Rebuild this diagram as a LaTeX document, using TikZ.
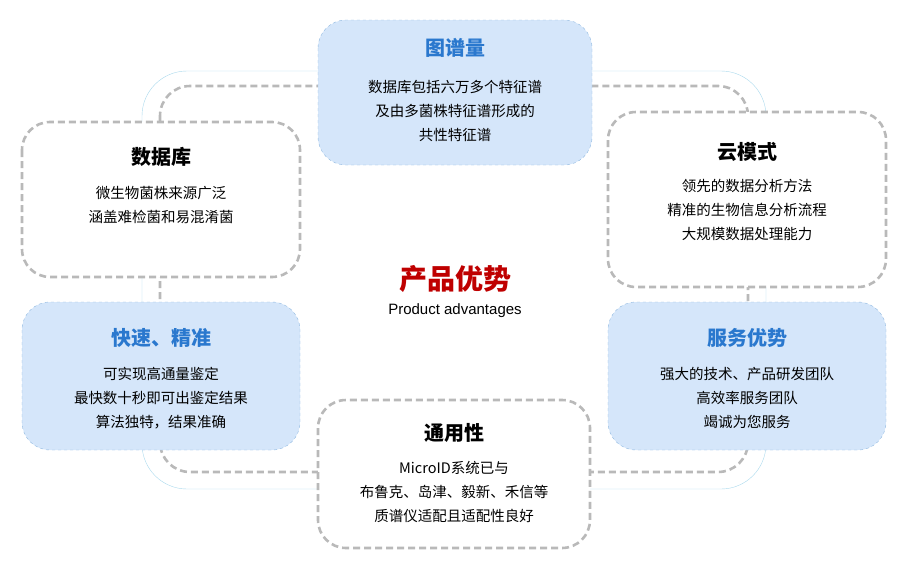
\documentclass[tikz,border=0pt]{standalone}
\usepackage{fontspec}
\setmainfont{Noto Sans CJK SC}
\newfontfamily\latin{Liberation Sans}
\definecolor{bfill}{HTML}{D5E6FA}
\definecolor{bline}{HTML}{8FB8E0}
\definecolor{btxt}{HTML}{2A78CE}
\definecolor{ring}{HTML}{A8D8EC}
\begin{document}
\begin{tikzpicture}[x=1pt,y=-1pt,
 blu/.style={fill=bfill, draw=bline, dashed, thin, rounded corners=28pt},
 wht/.style={fill=white, draw=gray!55, line width=2.6pt, dash pattern=on 7pt off 4pt, rounded corners=28pt},
 ttl/.style={font=\fontsize{20}{22}\selectfont\bfseries},
 bdy/.style={font=\fontsize{14.5}{24}\selectfont, align=center}]
\useasboundingbox (0,0) rectangle (903,565);
\draw[ring, thin, rounded corners=45pt] (142,71) rectangle (766,489);
\draw[gray!55, line width=2.6pt, dash pattern=on 7pt off 4pt, rounded corners=30pt] (160,86) rectangle (748,472);
\draw[blu] (318,20) rectangle (592,165);
\node[ttl, text=btxt] (t1) at (455,48) {图谱量};
\node[bdy] (b1) at (455,111) {数据库包括六万多个特征谱\\及由多菌株特征谱形成的\\共性特征谱};
\draw[wht] (22,122) rectangle (300,277);
\node[ttl] (t2) at (161,157) {数据库};
\node[bdy] (b2) at (161,205) {微生物菌株来源广泛\\涵盖难检菌和易混淆菌};
\draw[wht] (608,112) rectangle (886,287);
\node[ttl] (t3) at (747,152) {云模式};
\node[bdy] (b3) at (747,210) {领先的数据分析方法\\精准的生物信息分析流程\\大规模数据处理能力};
\draw[blu] (22,302) rectangle (300,450);
\node[ttl, text=btxt] (t4) at (161,338) {快速、精准};
\node[bdy] (b4) at (161,398) {可实现高通量鉴定\\最快数十秒即可出鉴定结果\\算法独特，结果准确};
\draw[blu] (608,302) rectangle (886,450);
\node[ttl, text=btxt] (t5) at (747,338) {服务优势};
\node[bdy] (b5) at (747,398) {强大的技术、产品研发团队\\高效率服务团队\\竭诚为您服务};
\draw[wht] (318,400) rectangle (590,548);
\node[ttl] (t6) at (454,433) {通用性};
\node[bdy] (b6) at (454,492) {MicroID系统已与\\布鲁克、岛津、毅新、禾信等\\质谱仪适配且适配性良好};
\node[font=\fontsize{28}{30}\selectfont\bfseries, text=red!75!black] (c) at (455,279) {产品优势};
\node[font=\latin\fontsize{15}{16}\selectfont] (c2) at (455,311) {Product advantages};
\end{tikzpicture}
\end{document}
